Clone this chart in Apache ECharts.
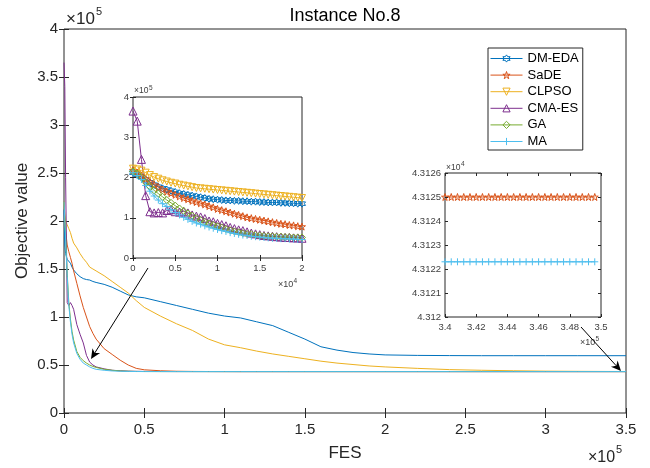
<!DOCTYPE html>
<html>
<head>
<meta charset="utf-8">
<script src="https://cdn.jsdelivr.net/npm/echarts@6/dist/echarts.min.js"></script>
<style>html,body{margin:0;padding:0;background:#fff;}#c{width:650px;height:468px;}</style>
</head>
<body>
<div id="c"></div>
<script>
// ---------- DATA ----------
const seriesNames = ['DM-EDA', 'SaDE', 'CLPSO', 'CMA-ES', 'GA', 'MA'];

// Main plot: FES (x10^5) and objective value (x10^5)
const fesMain = [0, 0.005, 0.01, 0.02, 0.03, 0.04, 0.05, 0.06, 0.08, 0.1, 0.12, 0.14, 0.16, 0.18, 0.2, 0.25, 0.3, 0.35, 0.4, 0.45, 0.5, 0.6, 0.7, 0.8, 0.9, 1.0, 1.1, 1.2, 1.3, 1.4, 1.5, 1.6, 1.7, 1.8, 1.9, 2.0, 2.2, 2.4, 2.6, 2.8, 3.0, 3.2, 3.4, 3.5];
const mainDMEDA = [2.12, 1.75, 1.66, 1.60, 1.58, 1.56, 1.52, 1.49, 1.45, 1.42, 1.40, 1.39, 1.385, 1.37, 1.36, 1.34, 1.31, 1.27, 1.23, 1.21, 1.20, 1.16, 1.12, 1.08, 1.04, 1.01, 0.99, 0.95, 0.91, 0.84, 0.77, 0.69, 0.655, 0.63, 0.615, 0.605, 0.60, 0.598, 0.597, 0.597, 0.597, 0.597, 0.597, 0.597];
const mainSaDE = [2.2, 2.0, 1.9, 1.75, 1.68, 1.62, 1.56, 1.48, 1.35, 1.22, 1.10, 1.0, 0.90, 0.83, 0.77, 0.67, 0.61, 0.55, 0.50, 0.465, 0.45, 0.44, 0.435, 0.433, 0.432, 0.4315, 0.43125, 0.43125, 0.43125, 0.43125, 0.43125, 0.43125, 0.43125, 0.43125, 0.43125, 0.43125, 0.43125, 0.43125, 0.43125, 0.43125, 0.43125, 0.43125, 0.43125, 0.43125];
const mainCLPSO = [2.2, 2.06, 2.0, 1.96, 1.92, 1.88, 1.82, 1.77, 1.72, 1.66, 1.61, 1.57, 1.52, 1.50, 1.48, 1.43, 1.37, 1.31, 1.25, 1.17, 1.10, 1.01, 0.93, 0.86, 0.77, 0.71, 0.68, 0.645, 0.615, 0.59, 0.565, 0.54, 0.52, 0.505, 0.49, 0.48, 0.465, 0.452, 0.445, 0.44, 0.436, 0.434, 0.4325, 0.432];
const mainCMAES = [3.65, 3.40, 2.45, 1.15, 1.12, 1.15, 1.12, 1.08, 0.92, 0.82, 0.73, 0.60, 0.53, 0.50, 0.48, 0.46, 0.445, 0.44, 0.436, 0.434, 0.433, 0.432, 0.4315, 0.4314, 0.4314, 0.4314, 0.43131, 0.43131, 0.43131, 0.43131, 0.43131, 0.43131, 0.43131, 0.43131, 0.43131, 0.43131, 0.43131, 0.43131, 0.43131, 0.43131, 0.43131, 0.43131, 0.43131, 0.43131];
const mainGA = [2.2, 2.05, 1.85, 1.45, 1.15, 0.98, 0.85, 0.76, 0.64, 0.58, 0.545, 0.52, 0.50, 0.485, 0.475, 0.455, 0.445, 0.438, 0.435, 0.433, 0.432, 0.4316, 0.4315, 0.4314, 0.4314, 0.4314, 0.43135, 0.43135, 0.43135, 0.43135, 0.43135, 0.43135, 0.43135, 0.43135, 0.43135, 0.43135, 0.43135, 0.43135, 0.43135, 0.43135, 0.43135, 0.43135, 0.43135, 0.43135];
const mainMA = [2.2, 2.0, 1.8, 1.42, 1.12, 0.95, 0.82, 0.73, 0.62, 0.56, 0.52, 0.50, 0.48, 0.465, 0.455, 0.445, 0.438, 0.435, 0.433, 0.432, 0.4316, 0.4315, 0.4314, 0.4313, 0.43125, 0.43123, 0.431223, 0.431223, 0.431223, 0.431223, 0.431223, 0.431223, 0.431223, 0.431223, 0.431223, 0.431223, 0.431223, 0.431223, 0.431223, 0.431223, 0.431223, 0.431223, 0.431223, 0.431223];

// Early-stage inset: FES (x10^4) and objective value (x10^5)
const fesEarly = [0, 0.05, 0.1, 0.15, 0.2, 0.25, 0.3, 0.35, 0.4, 0.45, 0.5, 0.55, 0.6, 0.65, 0.7, 0.75, 0.8, 0.85, 0.9, 0.95, 1.0, 1.05, 1.1, 1.15, 1.2, 1.25, 1.3, 1.35, 1.4, 1.45, 1.5, 1.55, 1.6, 1.65, 1.7, 1.75, 1.8, 1.85, 1.9, 1.95, 2.0];
const earlyDMEDA = [2.12, 2.07, 2.02, 1.95, 1.88, 1.82, 1.77, 1.73, 1.70, 1.67, 1.64, 1.61, 1.59, 1.57, 1.55, 1.53, 1.51, 1.49, 1.47, 1.46, 1.45, 1.44, 1.43, 1.43, 1.42, 1.42, 1.41, 1.41, 1.40, 1.40, 1.39, 1.39, 1.38, 1.38, 1.38, 1.37, 1.37, 1.36, 1.36, 1.35, 1.35];
const earlySaDE = [2.18, 2.12, 2.05, 1.97, 1.89, 1.82, 1.76, 1.70, 1.65, 1.61, 1.57, 1.53, 1.49, 1.46, 1.42, 1.39, 1.36, 1.33, 1.29, 1.26, 1.22, 1.19, 1.16, 1.13, 1.10, 1.07, 1.04, 1.01, 0.99, 0.97, 0.95, 0.93, 0.91, 0.89, 0.87, 0.85, 0.84, 0.82, 0.81, 0.79, 0.78];
const earlyCLPSO = [2.22, 2.20, 2.17, 2.12, 2.06, 2.01, 1.97, 1.93, 1.90, 1.87, 1.85, 1.82, 1.80, 1.78, 1.76, 1.74, 1.73, 1.72, 1.71, 1.70, 1.69, 1.68, 1.67, 1.66, 1.65, 1.64, 1.63, 1.62, 1.61, 1.60, 1.59, 1.58, 1.57, 1.56, 1.55, 1.54, 1.53, 1.52, 1.51, 1.50, 1.49];
const earlyCMAES = [3.65, 3.40, 2.45, 1.55, 1.15, 1.12, 1.13, 1.12, 1.18, 1.20, 1.15, 1.14, 1.16, 1.12, 1.07, 1.04, 1.02, 0.98, 0.92, 0.90, 0.86, 0.83, 0.80, 0.76, 0.73, 0.70, 0.68, 0.65, 0.62, 0.60, 0.58, 0.56, 0.55, 0.54, 0.53, 0.52, 0.51, 0.51, 0.50, 0.50, 0.49];
const earlyGA = [2.15, 2.10, 2.00, 1.88, 1.78, 1.68, 1.60, 1.52, 1.44, 1.37, 1.30, 1.23, 1.17, 1.11, 1.05, 0.99, 0.94, 0.90, 0.86, 0.82, 0.79, 0.76, 0.72, 0.69, 0.66, 0.64, 0.62, 0.60, 0.59, 0.57, 0.56, 0.55, 0.54, 0.54, 0.53, 0.53, 0.52, 0.52, 0.51, 0.51, 0.51];
const earlyMA = [2.12, 2.05, 1.95, 1.80, 1.66, 1.54, 1.44, 1.35, 1.28, 1.20, 1.13, 1.07, 1.01, 0.96, 0.91, 0.87, 0.84, 0.80, 0.77, 0.74, 0.71, 0.68, 0.66, 0.63, 0.61, 0.59, 0.57, 0.56, 0.54, 0.53, 0.52, 0.51, 0.50, 0.49, 0.49, 0.48, 0.48, 0.47, 0.47, 0.46, 0.46];

// Final-stage inset: raw FES and raw objective value
const fesTail = [340000, 340400, 340800, 341200, 341600, 342000, 342400, 342800, 343200, 343600, 344000, 344400, 344800, 345200, 345600, 346000, 346400, 346800, 347200, 347600, 348000, 348400, 348800, 349200, 349600];
const tailSaDE = [43125.0, 43125.0, 43125.0, 43125.0, 43125.0, 43125.0, 43125.0, 43125.0, 43125.0, 43125.0, 43125.0, 43125.0, 43125.0, 43125.0, 43125.0, 43125.0, 43125.0, 43125.0, 43125.0, 43125.0, 43125.0, 43125.0, 43125.0, 43125.0, 43125.0];
const tailMA = [43122.3, 43122.3, 43122.3, 43122.3, 43122.3, 43122.3, 43122.3, 43122.3, 43122.3, 43122.3, 43122.3, 43122.3, 43122.3, 43122.3, 43122.3, 43122.3, 43122.3, 43122.3, 43122.3, 43122.3, 43122.3, 43122.3, 43122.3, 43122.3, 43122.3];

// ---------- STYLE ----------
const colors = ['#0072BD', '#D95319', '#EDB120', '#7E2F8E', '#77AC30', '#4DBEEE'];
const FONT = 'Liberation Sans, Arial, Helvetica, sans-serif';
const AX = '#262626';
const SUB = '#404040';

function starPath(n, inner) {
  let d = '';
  for (let k = 0; k < 2 * n; k++) {
    const r = k % 2 === 0 ? 10 : 10 * inner;
    const a = -Math.PI / 2 + k * Math.PI / n;
    d += (k === 0 ? 'M' : 'L') + (10 + r * Math.cos(a)).toFixed(3) + ',' + (10 + r * Math.sin(a)).toFixed(3) + ' ';
  }
  return 'path://' + d + 'Z';
}
const symbols = [
  starPath(6, 0.577),
  starPath(5, 0.382),
  'path://M0,0 L10,0 L5,8.66 Z',
  'path://M5,0 L10,8.66 L0,8.66 Z',
  'path://M5,0 L10,6 L5,12 L0,6 Z',
  'path://M5,0 L5,10 M0,5 L10,5'
];

const zip = (xs, ys) => xs.map((x, i) => [x, ys[i]]);
const mainData = [mainDMEDA, mainSaDE, mainCLPSO, mainCMAES, mainGA, mainMA];
const earlyData = [earlyDMEDA, earlySaDE, earlyCLPSO, earlyCMAES, earlyGA, earlyMA];

const series = [];
seriesNames.forEach((n, i) => {
  series.push({
    type: 'line', name: n, xAxisIndex: 2, yAxisIndex: 2,
    data: zip(fesEarly, earlyData[i]),
    symbol: symbols[i], symbolSize: i === 3 ? 8 : 7, showSymbol: true,
    itemStyle: { color: 'none', borderColor: colors[i], borderWidth: 1 },
    lineStyle: { color: colors[i], width: 1 },
    z: 4, clip: true, animation: false, silent: true
  });
});
seriesNames.forEach((n, i) => {
  series.push({
    type: 'line', name: n, xAxisIndex: 0, yAxisIndex: 0,
    data: zip(fesMain, mainData[i]),
    symbol: symbols[i], showSymbol: false,
    itemStyle: { color: 'none', borderColor: colors[i], borderWidth: 1 },
    lineStyle: { color: colors[i], width: 1 },
    z: 2, clip: true, animation: false, silent: true
  });
});
[[1, tailSaDE], [5, tailMA]].forEach(([i, d]) => {
  series.push({
    type: 'line', name: seriesNames[i], xAxisIndex: 4, yAxisIndex: 4,
    data: zip(fesTail, d),
    symbol: symbols[i], symbolSize: 7, showSymbol: true,
    itemStyle: { color: 'none', borderColor: colors[i], borderWidth: 1 },
    lineStyle: { color: colors[i], width: 1 },
    z: 4, clip: true, animation: false, silent: true
  });
});

function axis(grid, pos, min, max, interval, tickLen, label, z, fmt) {
  return {
    type: 'value', gridIndex: grid, position: pos, min: min, max: max, interval: interval, z: z,
    axisLine: { show: false },
    axisTick: { show: true, inside: true, length: tickLen, lineStyle: { color: AX, width: 1 } },
    splitLine: { show: false },
    axisLabel: label ? Object.assign({ show: true, fontFamily: FONT, color: AX, formatter: fmt }, label) : { show: false }
  };
}
const fmtTailX = v => String(+(v / 1e5).toFixed(2));
const fmtTailY = v => String(+(v / 1e4).toFixed(4));

const xAxis = [
  axis(0, 'bottom', 0, 3.5, 0.5, 5, { fontSize: 15, margin: 9 }, 1),
  axis(0, 'top', 0, 3.5, 0.5, 5, null, 1),
  axis(1, 'bottom', 0, 2, 0.5, 3, { fontSize: 9.5, margin: 5, color: SUB }, 5),
  axis(1, 'top', 0, 2, 0.5, 3, null, 5),
  axis(2, 'bottom', 340000, 350000, 2000, 3, { fontSize: 9.5, margin: 5, color: SUB }, 5, fmtTailX),
  axis(2, 'top', 340000, 350000, 2000, 3, null, 5)
];
const yAxis = [
  axis(0, 'left', 0, 4, 0.5, 5, { fontSize: 15, margin: 6 }, 1),
  axis(0, 'right', 0, 4, 0.5, 5, null, 1),
  axis(1, 'left', 0, 4, 1, 3, { fontSize: 9.5, margin: 4, color: SUB }, 5),
  axis(1, 'right', 0, 4, 1, 3, null, 5),
  axis(2, 'left', 43120, 43126, 1, 3, { fontSize: 9.5, margin: 4, color: SUB }, 5, fmtTailY),
  axis(2, 'right', 43120, 43126, 1, 3, null, 5)
];

const grid = [
  { left: 64, top: 29, width: 562, height: 384, show: true, borderColor: AX, borderWidth: 1, backgroundColor: '#fff', z: 0 },
  { left: 133, top: 97, width: 169, height: 161, show: true, borderColor: AX, borderWidth: 1, backgroundColor: '#fff', z: 3 },
  { left: 445, top: 173, width: 156, height: 144, show: true, borderColor: AX, borderWidth: 1, backgroundColor: '#fff', z: 3 }
];

function txt(s, x, y, size, opts) {
  return Object.assign({
    type: 'text', x: x, y: y, z: 20,
    style: Object.assign({ text: s, fontSize: size, fontFamily: FONT, fill: AX, align: 'left', verticalAlign: 'middle' }, (opts && opts.style) || {})
  }, (opts && opts.el) || {});
}
function arrow(x1, y1, x2, y2) {
  const dx = x2 - x1, dy = y2 - y1, len = Math.hypot(dx, dy);
  const ux = dx / len, uy = dy / len, px = -uy, py = ux;
  const L = 10, W = 4.5, N = 3;
  const bx = x2 - ux * (L - N), by = y2 - uy * (L - N);
  return [
    { type: 'line', z: 20, shape: { x1: x1, y1: y1, x2: bx, y2: by }, style: { stroke: '#000', lineWidth: 1 } },
    { type: 'polygon', z: 20, shape: { points: [[x2, y2], [x2 - ux * L + px * W, y2 - uy * L + py * W], [bx, by], [x2 - ux * L - px * W, y2 - uy * L - py * W]] }, style: { fill: '#000' } }
  ];
}

const graphic = [
  txt('Instance No.8', 345, 16, 18, { style: { align: 'center', fill: '#000' } }),
  txt('FES', 345, 453, 17, { style: { align: 'center' } }),
  txt('Objective value', 22, 221, 17, { style: { align: 'center' }, el: { rotation: Math.PI / 2 } }),
  // main multipliers
  txt('\u00d710', 66, 19, 17),
  txt('5', 96, 12, 11),
  txt('\u00d710', 588, 458, 16),
  txt('5', 616, 450, 11),
  // inset 1 multipliers
  txt('\u00d710', 134, 91, 8.5, { style: { fill: SUB } }),
  txt('5', 149, 88, 6.5, { style: { fill: SUB } }),
  txt('\u00d710', 278, 285, 9, { style: { fill: SUB } }),
  txt('4', 293.5, 281, 6.5, { style: { fill: SUB } }),
  // inset 2 multipliers
  txt('\u00d710', 446, 168, 8.5, { style: { fill: SUB } }),
  txt('4', 461, 164, 6.5, { style: { fill: SUB } }),
  txt('\u00d710', 580, 343, 9, { style: { fill: SUB } }),
  txt('5', 595.5, 339, 6.5, { style: { fill: SUB } })
].concat(arrow(148, 268, 91, 359), arrow(581, 327, 621, 371));

const chart = echarts.init(document.getElementById('c'), null, { renderer: 'canvas' });
chart.setOption({
  animation: false,
  backgroundColor: '#fff',
  grid: grid,
  xAxis: xAxis,
  yAxis: yAxis,
  legend: {
    orient: 'vertical', left: 488, top: 48, data: seriesNames,
    itemWidth: 32, itemHeight: 9, itemGap: 3.6, padding: [4, 4, 2, 2],
    backgroundColor: '#fff', borderColor: AX, borderWidth: 1, borderRadius: 0,
    itemStyle: { color: 'none', borderWidth: 1 },
    lineStyle: { width: 1 },
    textStyle: { fontSize: 13, fontFamily: FONT, color: '#000' },
    selectedMode: false, z: 10
  },
  series: series,
  graphic: graphic
});
</script>
</body>
</html>
